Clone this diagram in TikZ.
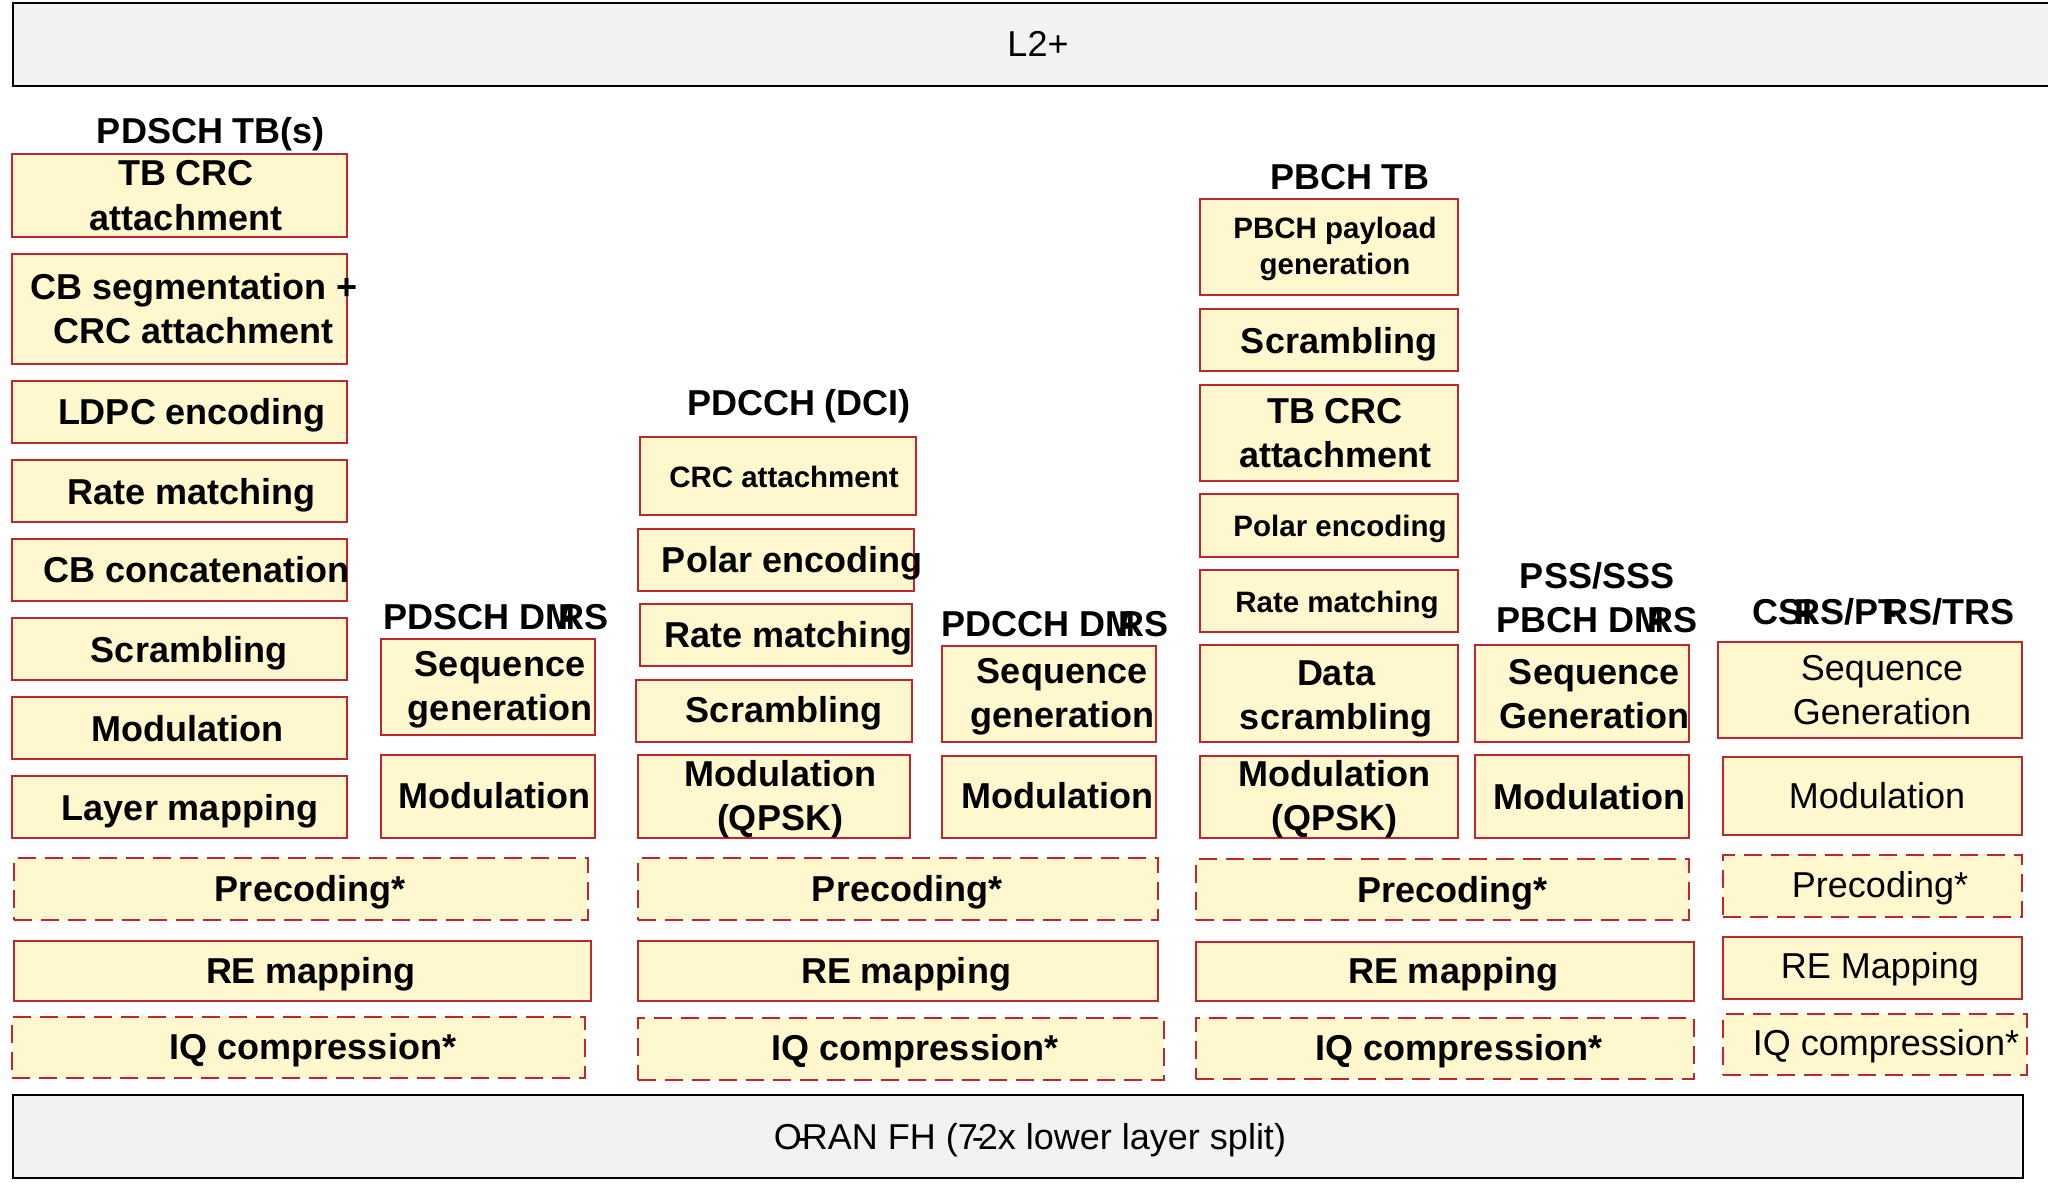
\documentclass[tikz,border=0pt]{standalone}
\usepackage{fontspec}
\setmainfont{Liberation Sans}
\definecolor{bred}{RGB}{192,38,45}
\definecolor{byel}{RGB}{255,248,207}
\definecolor{bgray}{RGB}{242,242,242}
\newcommand\hy[1]{\kern#1\makebox[0pt]{-}\kern#1}
\newcommand\blk[9]{%
  \node[#2box, minimum width={(#5-#3)*0.5pt}, minimum height={(#6-#4)*0.5pt}] (#1) at ({(#3+#5)/2},{(#4+#6)/2}) {};
  \node[#2txt, anchor=base] (#1t) at (#7,#8) {#9};
}
\begin{document}
\begin{tikzpicture}[x=0.5pt,y=-0.5pt,
  basebox/.style={rectangle, draw=bred, fill=byel, line width=1.25pt, inner sep=0pt},
  dashbox/.style={basebox, dash pattern=on 9pt off 4.5pt},
  boldtxt/.style={font=\fontsize{18}{22}\selectfont\bfseries, align=center, inner sep=0pt},
  smalltxt/.style={font=\fontsize{14.75}{17.5}\selectfont\bfseries, align=center, inner sep=0pt},
  regtxt/.style={font=\fontsize{18}{22}\selectfont, align=center, inner sep=0pt},
  Bbox/.style={basebox}, Btxt/.style={boldtxt},
  Sbox/.style={basebox}, Stxt/.style={smalltxt},
  Dbox/.style={dashbox}, Dtxt/.style={boldtxt},
  Rbox/.style={basebox}, Rtxt/.style={regtxt},
  RDbox/.style={dashbox}, RDtxt/.style={regtxt},
  bar/.style={rectangle, draw=black, fill=bgray, line width=1.4pt, inner sep=0pt},
  lbl/.style={font=\fontsize{18}{22}\selectfont\bfseries, align=center, inner sep=0pt, anchor=base}
]
\useasboundingbox (0,0) rectangle (2048,1182);

% top and bottom bars
\node[bar, minimum width={2047*0.5pt}, minimum height={83*0.5pt}] (l2) at (1036.5,44.5) {};
\node[regtxt, anchor=base] (l2t) at (1038,57) {L2+};
\node[bar, minimum width={2010*0.5pt}, minimum height={83*0.5pt}] (fh) at (1018,1136.5) {};
\node[regtxt, anchor=base] (fht) at (1030,1149) {O\hy{0em}RAN FH (7\hy{0em}2x lower layer split)};

% PDSCH TB(s)   (multi-line texts: y = baseline of the last line)
\node[lbl] (lab1) at (211,144) {PDSCH TB(s)};
\blk{a1}{B}{12}{154}{347}{237}{186}{230}{TB CRC\\attachment}
\blk{a2}{B}{12}{254}{347}{364}{194}{343}{CB segmentation +\\CRC attachment}
\blk{a3}{B}{12}{381}{347}{443}{192}{424}{LDPC encoding}
\blk{a4}{B}{12}{460}{347}{522}{192}{504}{Rate matching}
\blk{a5}{B}{12}{539}{347}{601}{197}{582}{CB concatenation}
\blk{a6}{B}{12}{618}{347}{680}{189}{662}{Scrambling}
\blk{a7}{B}{12}{697}{347}{759}{187}{741}{Modulation}
\blk{a8}{B}{12}{776}{347}{838}{190}{820}{Layer mapping}

% PDSCH DM-RS
\node[lbl] (lab2) at (496,629) {PDSCH DM\hy{-0.23em}RS};
\blk{b1}{B}{381}{639}{595}{735}{500}{720}{Sequence\\generation}
\blk{b2}{B}{381}{755}{595}{838}{494}{808}{Modulation}

\blk{c1}{D}{14}{858}{588}{920}{310}{901}{Precoding*}
\blk{c2}{B}{14}{941}{591}{1001}{311}{983}{RE mapping}
\blk{c3}{D}{12}{1017}{585}{1078}{313}{1059}{IQ compression*}

% PDCCH (DCI)
\node[lbl] (lab3) at (799,415) {PDCCH (DCI)};
\blk{d1}{S}{640}{437}{916}{515}{784}{487}{CRC attachment}
\blk{d2}{B}{638}{529}{914}{591}{792}{572}{Polar encoding}
\blk{d3}{B}{640}{604}{912}{666}{789}{647}{Rate matching}
\blk{d4}{B}{636}{680}{912}{742}{784}{722}{Scrambling}
\blk{d5}{B}{638}{755}{910}{838}{780}{830}{Modulation\\(QPSK)}

% PDCCH DM-RS
\node[lbl] (lab4) at (1055,636) {PDCCH DM\hy{-0.23em}RS};
\blk{e1}{B}{942}{646}{1156}{742}{1062}{727}{Sequence\\generation}
\blk{e2}{B}{942}{756}{1156}{838}{1057}{808}{Modulation}

\blk{f1}{D}{638}{858}{1158}{920}{907}{901}{Precoding*}
\blk{f2}{B}{638}{941}{1158}{1001}{906}{983}{RE mapping}
\blk{f3}{D}{638}{1018}{1164}{1080}{915}{1060}{IQ compression*}

% PBCH TB
\node[lbl] (lab5) at (1350,190) {PBCH TB};
\blk{g1}{S}{1200}{199}{1458}{295}{1335}{274}{PBCH payload\\generation}
\blk{g2}{B}{1200}{309}{1458}{371}{1339}{353}{Scrambling}
\blk{g3}{B}{1200}{385}{1458}{481}{1335}{467}{TB CRC\\attachment}
\blk{g4}{S}{1200}{494}{1458}{557}{1340}{536}{Polar encoding}
\blk{g5}{S}{1200}{570}{1458}{632}{1337}{612}{Rate matching}
\blk{g6}{B}{1200}{645}{1458}{742}{1336}{729}{Data\\scrambling}
\blk{g7}{B}{1200}{756}{1458}{838}{1334}{830}{Modulation\\(QPSK)}

% PSS/SSS, PBCH DM-RS
\node[lbl] (lab6) at (1597,632) {PSS/SSS\\PBCH DM\hy{-0.23em}RS};
\blk{h1}{B}{1475}{645}{1689}{742}{1594}{728}{Sequence\\Generation}
\blk{h2}{B}{1475}{755}{1689}{838}{1589}{809}{Modulation}

\blk{i1}{D}{1196}{859}{1689}{920}{1452}{902}{Precoding*}
\blk{i2}{B}{1196}{942}{1694}{1001}{1453}{983}{RE mapping}
\blk{i3}{D}{1196}{1018}{1694}{1079}{1459}{1060}{IQ compression*}

% CSI-RS/PT-RS/TRS
\node[lbl] (lab7) at (1883,624) {CSI\hy{-0.25em}RS/PT\hy{-0.25em}RS/TRS};
\blk{j1}{R}{1718}{642}{2022}{738}{1882}{724}{Sequence\\Generation}
\blk{j2}{R}{1723}{757}{2022}{835}{1877}{808}{Modulation}
\blk{j3}{RD}{1723}{855}{2022}{917}{1880}{897}{Precoding*}
\blk{j4}{R}{1723}{937}{2022}{999}{1880}{978}{RE Mapping}
\blk{j5}{RD}{1723}{1014}{2027}{1075}{1886}{1055}{IQ compression*}
\end{tikzpicture}
\end{document}
